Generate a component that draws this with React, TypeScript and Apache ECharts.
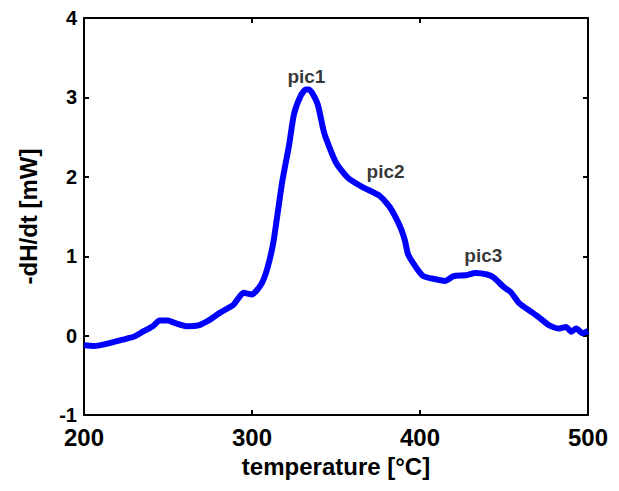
import React, { useEffect, useRef } from "react";
import * as echarts from "echarts";

const temperature = [200, 206, 212, 223, 230, 235, 241, 245, 250, 254, 261, 268, 274, 281, 289, 295, 300, 305, 308, 311, 313, 318, 322, 325, 329, 332, 334, 339, 343, 350, 357, 365, 376, 382, 388, 391, 393, 398, 402, 407, 415, 420, 427, 433, 440, 444, 450, 454, 459, 467, 472, 477, 483, 487, 490, 493, 497, 500];
const heatFlow = [-0.12, -0.13, -0.11, -0.05, -0.01, 0.05, 0.12, 0.19, 0.19, 0.16, 0.12, 0.13, 0.19, 0.29, 0.39, 0.54, 0.52, 0.63, 0.77, 1.0, 1.21, 1.94, 2.39, 2.79, 3.02, 3.1, 3.1, 2.92, 2.55, 2.18, 1.99, 1.88, 1.76, 1.62, 1.38, 1.2, 1.02, 0.85, 0.75, 0.72, 0.69, 0.75, 0.76, 0.79, 0.77, 0.73, 0.61, 0.55, 0.41, 0.29, 0.21, 0.13, 0.09, 0.11, 0.05, 0.09, 0.03, 0.06];
const peakNames = ["pic1", "pic2", "pic3"];
const peakX = [332.4, 379.5, 437.7];
const peakY = [3.26, 2.07, 1.01];
const xTicks = [200, 300, 400, 500];
const yTicks = [-1, 0, 1, 2, 3, 4];

const FONT = "Liberation Sans, Arial, sans-serif";

export default function App() {
  const ref = useRef<HTMLDivElement>(null);
  useEffect(() => {
    if (!ref.current) return;
    const chart = echarts.init(ref.current, undefined, { renderer: "svg" });
    const axisLine = { show: true, onZero: false, lineStyle: { color: "#000", width: 2 } };
    const axisTick = { show: true, inside: true, length: 5, lineStyle: { color: "#000", width: 2 } };
    chart.setOption({
      animation: false,
      backgroundColor: "#fff",
      grid: { left: 72, right: 14, top: 10, bottom: 53, containLabel: false },
      xAxis: [
        {
          type: "value",
          min: xTicks[0],
          max: xTicks[xTicks.length - 1],
          interval: 100,
          position: "bottom",
          axisLine,
          axisTick,
          splitLine: { show: false },
          axisLabel: { color: "#000", fontSize: 24, lineHeight: 18, fontWeight: "bold", fontFamily: FONT, margin: 13 },
          name: "temperature [°C]",
          nameLocation: "middle",
          nameGap: 36,
          nameTextStyle: { color: "#000", fontSize: 24, lineHeight: 24, fontWeight: "bold", fontFamily: FONT },
        },
        {
          type: "value",
          min: xTicks[0],
          max: xTicks[xTicks.length - 1],
          interval: 100,
          position: "top",
          axisLine,
          axisTick,
          splitLine: { show: false },
          axisLabel: { show: false },
        },
      ],
      yAxis: [
        {
          type: "value",
          min: yTicks[0],
          max: yTicks[yTicks.length - 1],
          interval: 1,
          position: "left",
          axisLine,
          axisTick,
          splitLine: { show: false },
          axisLabel: { color: "#000", fontSize: 20, lineHeight: 16, fontWeight: "bold", fontFamily: FONT, margin: 7, padding: [0, 0, 3, 0] },
          name: "-dH/dt [mW]",
          nameLocation: "middle",
          nameGap: 44,
          nameTextStyle: { color: "#000", fontSize: 24, fontWeight: "bold", fontFamily: FONT },
        },
        {
          type: "value",
          min: yTicks[0],
          max: yTicks[yTicks.length - 1],
          interval: 1,
          position: "right",
          axisLine,
          axisTick,
          splitLine: { show: false },
          axisLabel: { show: false },
        },
      ],
      series: [
        {
          type: "line",
          data: temperature.map((t, i) => [t, heatFlow[i]]),
          showSymbol: false,
          smooth: 0.2,
          lineStyle: { color: "#0000ff", width: 6 },
          itemStyle: { color: "#0000ff" },
          z: 3,
        },
        {
          type: "scatter",
          data: peakNames.map((n, i) => ({ value: [peakX[i], peakY[i]], name: n })),
          symbolSize: 0,
          label: {
            show: true,
            position: "inside",
            formatter: (p: any) => p.name,
            color: "#000",
            fontSize: 19,
            fontWeight: "bold",
            fontFamily: FONT,
          },
          z: 4,
        },
      ],
    });
    return () => chart.dispose();
  }, []);
  return <div ref={ref} style={{ width: 603, height: 475 }} />;
}
